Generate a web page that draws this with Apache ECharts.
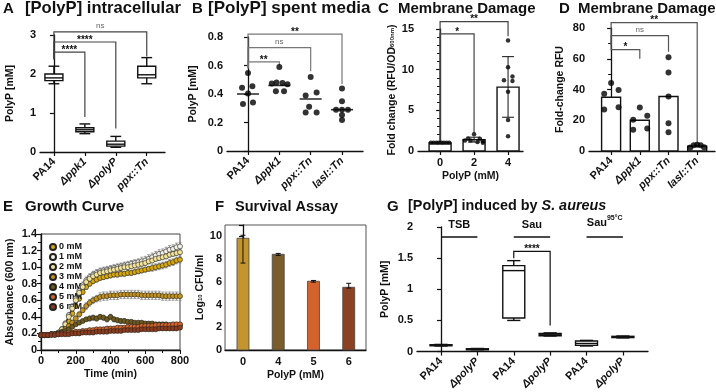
<!DOCTYPE html>
<html>
<head>
<meta charset="utf-8">
<script src="https://cdn.jsdelivr.net/npm/echarts@6/dist/echarts.min.js"></script>
<style>
  html, body { margin: 0; padding: 0; background: #fff; }
  #chart { width: 716px; height: 392px; }
</style>
</head>
<body>
<div id="chart"></div>
<script>
const FONT = '"Liberation Sans", Arial, Helvetica, sans-serif';

// ---------- A: [PolyP] intracellular (min, q1, median, q3, max)
const strainsA = ['PA14', 'Δppk1', 'ΔpolyP', 'ppx::Tn'];
const boxesA = [
  [1.75, 1.83, 1.90, 2.00, 2.20],
  [0.47, 0.52, 0.57, 0.62, 0.72],
  [0.12, 0.15, 0.20, 0.28, 0.40],
  [1.75, 1.90, 1.98, 2.20, 2.42]
];
// [from, to, top, left leg end, right leg end]
const bracketsA = [[0, 1, 2.56, 2.38, 0.90], [0, 2, 2.82, 2.38, 0.60], [0, 3, 3.08, 2.38, 2.45]];
const starsA = ['****', '****', 'ns'];

// ---------- B: [PolyP] spent media  ([offset within group, value])
const strainsB = ['PA14', 'Δppk1', 'ppx::Tn', 'lasI::Tn'];
const pointsB = [
  [[0, 0.548], [-0.19, 0.443], [0.14, 0.455], [0, 0.403], [-0.16, 0.329], [0.16, 0.34]],
  [[0, 0.59], [-0.24, 0.473], [-0.09, 0.48], [0.1, 0.478], [0.26, 0.469], [-0.11, 0.42], [0.15, 0.42]],
  [[0, 0.52], [-0.16, 0.39], [0.19, 0.41], [-0.05, 0.31], [-0.16, 0.27], [0.19, 0.27]],
  [[0, 0.438], [0, 0.35], [-0.19, 0.29], [0, 0.29], [0.19, 0.29], [0, 0.252], [0, 0.217]]
];
const mediansB = [0.40, 0.46, 0.365, 0.29];
const bracketsB = [[0, 1, 0.625, 0.58, 0.60], [0, 2, 0.725, 0.58, 0.56], [0, 3, 0.82, 0.58, 0.47]];
const starsB = ['**', 'ns', '**'];

// ---------- C: Membrane damage vs PolyP dose
const dosesC = ['0', '2', '4'];
const barsC = [1.0, 1.4, 7.85];
const errC = [[1.0, 1.0], [1.1, 1.7], [4.15, 11.6]];
const pointsC = [
  [[-0.27, 1], [-0.19, 1], [-0.11, 1], [-0.04, 1], [0.04, 1], [0.11, 1], [0.19, 1], [0.27, 1]],
  [[0, 2.05], [-0.18, 1.55], [0.17, 1.5], [-0.27, 1.3], [-0.1, 1.3], [0.26, 1.2], [0.1, 1.1], [0.26, 1.0]],
  [[0, 13.6], [0, 10.3], [-0.12, 8.7], [0.13, 9.15], [0.13, 8.6], [0, 7.3], [0, 3.8], [0, 1.8]]
];
const bracketsC = [[0, 1, 14.4, 1.1, 2.2], [0, 2, 15.9, 1.1, 14.1]];
const starsC = ['*', '**'];

// ---------- D: Membrane damage per strain
const strainsD = ['PA14', 'Δppk1', 'ppx::Tn', 'lasI::Tn'];
const barsD = [35, 20, 35.4, 3.2];
const pointsD = [
  [[0, 44.3], [-0.24, 37.2], [0.26, 39.6], [-0.24, 27], [0.26, 28.5]],
  [[0, 28.3], [-0.23, 20.4], [0.26, 23], [-0.23, 13.9], [0.26, 14.6]],
  [[0, 61], [0, 51], [0, 35.4], [0, 18], [0, 12.2]],
  [[-0.24, 2.2], [-0.12, 3.7], [0, 4.1], [0.12, 3.8], [0.24, 2.4]]
];
const bracketsD = [[0, 1, 66, 69, 60], [0, 2, 75, 69, 64.6], [0, 3, 83.5, 69, 4.8]];
const starsD = ['*', 'ns', '**'];

// ---------- E: Growth curves (absorbance 600 nm) with SD
const timeE = [0, 20, 40, 60, 80, 100, 120, 140, 160, 180, 200, 220, 240, 260, 280, 300, 320, 340, 360, 380, 400,
  420, 440, 460, 480, 500, 520, 540, 560, 580, 600, 620, 640, 660, 680, 700, 720, 740, 760, 780, 800];
const doseNamesE = ['0 mM', '1 mM', '2 mM', '3 mM', '4 mM', '5 mM', '6 mM'];
const doseColorsE = ['#d9a90c', '#f4f1e6', '#f3e49c', '#c3921f', '#6e5a1c', '#d4642a', '#8c3c1c'];
const od0mM = [.18, .18, .18, .19, .19, .20, .23, .28, .35, .44, .53, .62, .70, .76, .80, .83, .85, .87, .88, .89, .90,
  .91, .91, .92, .92, .93, .93, .94, .95, .96, .97, .98, .99, 1.00, 1.01, 1.02, 1.03, 1.05, 1.06, 1.08, 1.09];
const od1mM = [.18, .18, .18, .19, .19, .21, .25, .32, .42, .52, .62, .71, .78, .84, .88, .91, .93, .95, .96, .97, .98,
  .99, 1.00, 1.01, 1.02, 1.03, 1.04, 1.05, 1.06, 1.07, 1.08, 1.10, 1.12, 1.14, 1.16, 1.17, 1.19, 1.21, 1.22, 1.24, 1.25];
const od2mM = [.18, .18, .18, .19, .19, .21, .25, .31, .40, .50, .60, .69, .76, .82, .86, .89, .91, .93, .94, .95, .96,
  .97, .98, .99, 1.00, 1.00, 1.01, 1.02, 1.03, 1.04, 1.05, 1.07, 1.08, 1.10, 1.11, 1.12, 1.13, 1.15, 1.16, 1.17, 1.18];
const od3mM = [.18, .18, .18, .19, .19, .20, .22, .25, .29, .33, .38, .43, .48, .53, .57, .60, .62, .64, .65, .65, .66,
  .66, .66, .67, .67, .67, .67, .67, .67, .66, .66, .66, .66, .66, .66, .65, .65, .65, .65, .65, .65];
const od4mM = [.18, .18, .18, .19, .19, .20, .21, .23, .25, .28, .31, .33, .35, .37, .38, .39, .38, .40, .39, .37, .40,
  .37, .36, .35, .35, .34, .34, .33, .33, .33, .32, .32, .32, .31, .31, .31, .31, .30, .30, .30, .30];
const od5mM = [.18, .18, .18, .19, .19, .19, .20, .20, .21, .21, .22, .22, .23, .23, .24, .24, .25, .25, .25, .26, .26,
  .26, .27, .27, .27, .28, .28, .28, .28, .29, .29, .29, .29, .30, .30, .30, .30, .30, .31, .31, .31];
const od6mM = [.18, .18, .18, .18, .18, .19, .19, .19, .19, .20, .20, .20, .21, .21, .21, .21, .22, .22, .22, .22, .23,
  .23, .23, .23, .24, .24, .24, .24, .24, .25, .25, .25, .25, .25, .26, .26, .26, .26, .26, .26, .27];
const sd0mM = [.02, .02, .02, .02, .02, .02, .02, .03, .03, .03, .03, .03, .03, .03, .03, .03, .03, .03, .03, .03, .03,
  .03, .03, .03, .03, .03, .03, .03, .03, .03, .03, .03, .04, .04, .04, .04, .04, .04, .04, .04, .04];
const sd1mM = [.02, .02, .02, .02, .02, .02, .03, .03, .03, .04, .04, .04, .04, .04, .04, .04, .04, .04, .04, .04, .04,
  .04, .04, .04, .04, .04, .04, .04, .04, .05, .05, .05, .05, .05, .05, .05, .05, .05, .05, .05, .05];
const sd2mM = [.02, .02, .02, .02, .02, .02, .02, .03, .03, .03, .03, .03, .03, .03, .03, .03, .03, .03, .03, .03, .03,
  .03, .03, .03, .03, .03, .03, .03, .03, .03, .03, .03, .03, .03, .03, .03, .03, .03, .03, .03, .03];
const sd3mM = [.02, .02, .02, .02, .02, .02, .02, .02, .03, .03, .03, .03, .03, .04, .04, .04, .04, .05, .05, .05, .05,
  .05, .05, .05, .05, .05, .05, .05, .05, .05, .05, .05, .05, .05, .05, .05, .05, .05, .05, .05, .05];
const sd4mM = [.02, .02, .02, .02, .02, .02, .02, .02, .02, .02, .02, .02, .02, .02, .03, .03, .03, .03, .03, .03, .03,
  .03, .03, .03, .03, .02, .02, .02, .02, .02, .02, .02, .02, .02, .02, .02, .02, .02, .02, .02, .02];
const sd5mM = [.02, .02, .02, .02, .02, .02, .02, .02, .02, .02, .02, .02, .02, .02, .02, .02, .02, .02, .02, .02, .02,
  .02, .02, .02, .02, .02, .02, .02, .02, .02, .02, .02, .02, .02, .02, .02, .02, .02, .02, .02, .02];
const sd6mM = [.02, .02, .02, .02, .02, .02, .02, .02, .02, .02, .02, .02, .02, .02, .02, .02, .02, .02, .02, .02, .02,
  .02, .02, .02, .02, .02, .02, .02, .02, .02, .02, .02, .02, .02, .02, .02, .02, .02, .02, .02, .02];
const curvesE = [od0mM, od1mM, od2mM, od3mM, od4mM, od5mM, od6mM];
const sdE = [sd0mM, sd1mM, sd2mM, sd3mM, sd4mM, sd5mM, sd6mM];

// ---------- F: Survival assay
const dosesF = ['0', '4', '5', '6'];
const barsF = [9.83, 8.42, 6.05, 5.52];
const errF = [[7.65, 10.1], [8.32, 8.5], [5.97, 6.12], [5.45, 5.87]];
const colorsF = ['#c4952f', '#7b5c2b', '#d3622c', '#8a4223'];

// ---------- G: [PolyP] induced by S. aureus (min, q1, median, q3, max)
const strainsG = ['PA14', 'ΔpolyP', 'PA14', 'ΔpolyP', 'PA14', 'ΔpolyP'];
const boxesG = [
  [0.09, 0.095, 0.10, 0.11, 0.115],
  [0.03, 0.035, 0.04, 0.045, 0.05],
  [0.50, 0.54, 1.30, 1.38, 1.46],
  [0.25, 0.255, 0.27, 0.29, 0.30],
  [0.09, 0.10, 0.13, 0.17, 0.18],
  [0.22, 0.225, 0.235, 0.245, 0.25]
];
const conditionsG = ['{a|TSB}', '{a|Sau}', '{a|Sau}{s|95°C}'];
const conditionSpanG = [[0, 1, 1.84], [2, 3, 1.84], [4, 5, 1.84]];
const bracketsG = [[2, 3, 1.61, 1.50, 0.42]];
const starsG = ['****'];

// ================= helpers
const INK = '#111';
const tickFont = { fontFamily: FONT, fontSize: 11, fontWeight: 'bold', color: INK };
const nameFont = { fontFamily: FONT, fontSize: 10.5, fontWeight: 'bold', color: INK };

function fmtStrain(n) {
  return /^(PA14|\d+)$/.test(n) ? '{n|' + n + '}' : '{i|' + n + '}';
}

function catAxis(gi, min, max, names, rotate) {
  const idx = names.map((_, i) => i);
  return {
    type: 'value', gridIndex: gi, min: min, max: max,
    splitLine: { show: false },
    axisLine: { lineStyle: { color: INK, width: 1.3 } },
    axisTick: { customValues: idx, length: 4, lineStyle: { color: INK, width: 1.2 } },
    axisLabel: {
      customValues: idx, rotate: rotate, margin: rotate ? 8 : 6,
      formatter: v => fmtStrain(names[Math.round(v)]),
      rich: {
        n: Object.assign({}, tickFont),
        i: Object.assign({}, tickFont, { fontStyle: 'italic' })
      }
    }
  };
}

function valAxis(gi, min, max, interval, name, nameGap, extra) {
  return Object.assign({
    type: 'value', gridIndex: gi, min: min, max: max, interval: interval,
    name: name, nameLocation: 'middle', nameGap: nameGap, nameTextStyle: nameFont,
    splitLine: { show: false },
    axisLine: { show: true, lineStyle: { color: INK, width: 1.3 } },
    axisTick: { show: true, length: 4, lineStyle: { color: INK, width: 1.2 } },
    axisLabel: Object.assign({ margin: 4 }, tickFont)
  }, extra || {});
}

const oneDecimal = v => (v === 0 ? '0' : v.toFixed(1));

function boxSeries(gi, boxes, w) {
  return {
    type: 'custom', xAxisIndex: gi, yAxisIndex: gi, clip: false, silent: true, z: 3,
    data: boxes.map((b, i) => [i].concat(b)),
    renderItem: (params, api) => {
      const x = api.value(0);
      const lo = api.coord([x, api.value(1)]), q1 = api.coord([x, api.value(2)]);
      const md = api.coord([x, api.value(3)]), q3 = api.coord([x, api.value(4)]);
      const hi = api.coord([x, api.value(5)]);
      const cx = lo[0], h = w / 2, c = w * 0.3;
      const ls = { stroke: INK, lineWidth: 1.4 };
      return {
        type: 'group', children: [
          { type: 'line', shape: { x1: cx, y1: hi[1], x2: cx, y2: q3[1] }, style: ls },
          { type: 'line', shape: { x1: cx - c, y1: hi[1], x2: cx + c, y2: hi[1] }, style: ls },
          { type: 'line', shape: { x1: cx, y1: q1[1], x2: cx, y2: lo[1] }, style: ls },
          { type: 'line', shape: { x1: cx - c, y1: lo[1], x2: cx + c, y2: lo[1] }, style: ls },
          { type: 'rect', shape: { x: cx - h, y: q3[1], width: w, height: Math.max(q1[1] - q3[1], 1) },
            style: { fill: '#fff', stroke: INK, lineWidth: 1.4 } },
          { type: 'line', shape: { x1: cx - h, y1: md[1], x2: cx + h, y2: md[1] }, style: ls }
        ]
      };
    }
  };
}

function barSeries(gi, values, w, fills, stroke, lw) {
  return {
    type: 'custom', xAxisIndex: gi, yAxisIndex: gi, silent: true, z: 2,
    data: values.map((v, i) => [i, v]),
    renderItem: (params, api) => {
      const top = api.coord([api.value(0), api.value(1)]);
      const base = api.coord([api.value(0), 0]);
      return {
        type: 'rect', shape: { x: top[0] - w / 2, y: top[1], width: w, height: base[1] - top[1] },
        style: { fill: fills[params.dataIndex % fills.length], stroke: stroke, lineWidth: lw }
      };
    }
  };
}

function errSeries(gi, errs, cap, z) {
  return {
    type: 'custom', xAxisIndex: gi, yAxisIndex: gi, silent: true, clip: false, z: z || 4,
    data: errs.map((e, i) => [i, e[0], e[1]]),
    renderItem: (params, api) => {
      const lo = api.coord([api.value(0), api.value(1)]);
      const hi = api.coord([api.value(0), api.value(2)]);
      const ls = { stroke: INK, lineWidth: 1 };
      return {
        type: 'group', children: [
          { type: 'line', shape: { x1: lo[0], y1: lo[1], x2: hi[0], y2: hi[1] }, style: ls },
          { type: 'line', shape: { x1: hi[0] - cap, y1: hi[1], x2: hi[0] + cap, y2: hi[1] }, style: ls },
          { type: 'line', shape: { x1: lo[0] - cap, y1: lo[1], x2: lo[0] + cap, y2: lo[1] }, style: ls }
        ]
      };
    }
  };
}

function bracketSeries(gi, items, labels, color) {
  return {
    type: 'custom', xAxisIndex: gi, yAxisIndex: gi, clip: false, silent: true, z: 5,
    data: items,
    renderItem: (params, api) => {
      const a = api.coord([api.value(0), api.value(3)]);
      const b = api.coord([api.value(0), api.value(2)]);
      const c = api.coord([api.value(1), api.value(2)]);
      const d = api.coord([api.value(1), api.value(4)]);
      const lab = labels[params.dataIndex];
      const ns = lab === 'ns';
      return {
        type: 'group', children: [
          { type: 'polyline', shape: { points: [a, b, c, d] }, style: { stroke: color, lineWidth: 1.2, fill: null } },
          { type: 'text', style: {
            text: lab, x: (b[0] + c[0]) / 2, y: ns ? b[1] - 2 : b[1] + 3, align: 'center', verticalAlign: 'bottom',
            font: (ns ? 'normal 8px ' : 'bold 10px ') + FONT, fill: ns ? '#666' : INK } }
        ]
      };
    }
  };
}

function dotSeries(gi, groups, size) {
  const pts = [];
  groups.forEach((g, i) => g.forEach(p => pts.push([i + p[0], p[1]])));
  return {
    type: 'scatter', xAxisIndex: gi, yAxisIndex: gi, data: pts, symbolSize: size, silent: true, z: 6,
    itemStyle: { color: '#000' }
  };
}

// ================= chart
const chart = echarts.init(document.getElementById('chart'), null, { renderer: 'canvas' });

const titleStyle = { fontFamily: FONT, fontSize: 15, fontWeight: 'bold', color: INK };
const titles = [
  ['A', 3, 1, 15], ['[PolyP] intracellular', 25, 0, 16.6],
  ['B', 192, 1, 15], ['[PolyP] spent media', 208, 0, 17],
  ['C', 378, 1, 15], ['Membrane Damage', 398, 1, 15],
  ['D', 559, 1, 15], ['Membrane Damage', 578, 1, 15],
  ['E', 3, 199, 15], ['Growth Curve', 25, 199, 15],
  ['F', 215, 199, 15], ['Survival Assay', 235, 199, 14.5],
  ['G', 387, 199, 15], ['[PolyP] induced by {it|S. aureus}', 408, 199, 14.4]
].map(t => {
  const st = Object.assign({}, titleStyle, { fontSize: t[3] });
  return {
    text: t[0], left: t[1], top: t[2], padding: 0,
    textStyle: Object.assign({}, st, { rich: { it: Object.assign({}, st, { fontStyle: 'italic' }) } })
  };
});

const grids = [
  { left: 40, top: 35, width: 125, height: 117 },   // A
  { left: 227, top: 37, width: 136, height: 114 },  // B
  { left: 418, top: 29, width: 105, height: 122 },  // C
  { left: 589, top: 28, width: 126, height: 123 },  // D
  { left: 41, top: 234, width: 139, height: 116, show: true, borderColor: '#444', borderWidth: 1 }, // E
  { left: 225, top: 225, width: 141, height: 125, show: true, borderColor: '#555', borderWidth: 1 }, // F
  { left: 417, top: 227, width: 231, height: 128 }  // G
];

const xAxes = [
  catAxis(0, -0.45, 3.59, strainsA, 45),
  catAxis(1, -0.67, 3.67, strainsB, 45),
  Object.assign(catAxis(2, -0.65, 2.44, dosesC, 0), {
    name: 'PolyP (mM)', nameLocation: 'middle', nameGap: 20, nameTextStyle: nameFont }),
  catAxis(3, -0.77, 3.62, strainsD, 45),
  {
    type: 'value', gridIndex: 4, min: 0, max: 800, interval: 200,
    name: 'Time (min)', nameLocation: 'middle', nameGap: 19, nameTextStyle: nameFont,
    splitLine: { show: false },
    axisLine: { lineStyle: { color: INK, width: 1.3 } },
    axisTick: { length: 4, lineStyle: { color: INK } },
    minorTick: { show: true, splitNumber: 2, length: 3, lineStyle: { color: INK } },
    axisLabel: Object.assign({ margin: 5 }, tickFont)
  },
  Object.assign(catAxis(5, -0.51, 3.49, dosesF, 0), {
    name: 'PolyP (mM)', nameLocation: 'middle', nameGap: 20, nameTextStyle: nameFont,
    axisTick: { show: false } }),
  catAxis(6, -0.66, 5.69, strainsG, 45)
];

const yAxes = [
  valAxis(0, 0, 3, 1, 'PolyP [mM]', 24),
  valAxis(1, 0, 0.8, 0.2, 'PolyP [mM]', 28, { axisLabel: Object.assign({ margin: 4, formatter: oneDecimal }, tickFont) }),
  valAxis(2, 0, 15, 5, 'Fold change (RFU/OD{sub|600nm})', 20, {
    minorTick: { show: true, splitNumber: 5, length: 3, lineStyle: { color: INK } },
    nameTextStyle: Object.assign({}, nameFont, { rich: { sub: Object.assign({}, nameFont, { fontSize: 6 }) } })
  }),
  valAxis(3, 0, 80, 20, 'Fold-change RFU', 23, {
    minorTick: { show: true, splitNumber: 2, length: 3, lineStyle: { color: INK } }
  }),
  valAxis(4, 0, 1.4, 0.2, 'Absorbance (600 nm)', 25, {
    minorTick: { show: true, splitNumber: 2, length: 3, lineStyle: { color: INK } },
    axisLabel: Object.assign({ margin: 4, formatter: oneDecimal }, tickFont)
  }),
  valAxis(5, 0, 11, 2, 'Log{sub|10} CFU/ml', 16, {
    minorTick: { show: true, splitNumber: 2, length: 3, lineStyle: { color: INK } },
    axisLabel: Object.assign({ margin: 3, formatter: v => (v > 10 ? '' : String(v)) }, tickFont),
    nameTextStyle: Object.assign({}, nameFont, { rich: { sub: Object.assign({}, nameFont, { fontSize: 6 }) } })
  }),
  valAxis(6, 0, 2, 0.5, 'PolyP [mM]', 26)
];

const series = [];

// A
series.push(boxSeries(0, boxesA, 18));
series.push(bracketSeries(0, bracketsA, starsA, '#444'));

// B
series.push({
  type: 'scatter', xAxisIndex: 1, yAxisIndex: 1, silent: true, z: 5,
  symbol: 'rect', symbolSize: [22, 1.6], itemStyle: { color: '#000' },
  data: mediansB.map((m, i) => [i, m])
});
series.push(dotSeries(1, pointsB, 6));
series.push(bracketSeries(1, bracketsB, starsB, '#777'));

// C
series.push(barSeries(2, barsC, 22, ['#fff'], INK, 1.4));
series.push(dotSeries(2, pointsC, 4.5));
series.push(errSeries(2, errC, 6, 7));
series.push(bracketSeries(2, bracketsC, starsC, '#444'));

// D
series.push(barSeries(3, barsD, 19, ['#fff'], INK, 1.4));
series.push(dotSeries(3, pointsD, 6));
series.push(bracketSeries(3, bracketsD, starsD, '#555'));

// E: SD whiskers underneath, then curves
curvesE.forEach((vals, k) => {
  series.push({
    type: 'custom', xAxisIndex: 4, yAxisIndex: 4, silent: true, z: 2,
    data: timeE.map((t, i) => [t, vals[i] - sdE[k][i], vals[i] + sdE[k][i]]),
    renderItem: (params, api) => {
      const lo = api.coord([api.value(0), api.value(1)]);
      const hi = api.coord([api.value(0), api.value(2)]);
      const ls = { stroke: '#8a8a8a', lineWidth: 0.8 };
      return {
        type: 'group', children: [
          { type: 'line', shape: { x1: lo[0], y1: lo[1], x2: hi[0], y2: hi[1] }, style: ls },
          { type: 'line', shape: { x1: hi[0] - 1.5, y1: hi[1], x2: hi[0] + 1.5, y2: hi[1] }, style: ls },
          { type: 'line', shape: { x1: lo[0] - 1.5, y1: lo[1], x2: lo[0] + 1.5, y2: lo[1] }, style: ls }
        ]
      };
    }
  });
});
curvesE.forEach((vals, k) => {
  series.push({
    name: doseNamesE[k], type: 'line', xAxisIndex: 4, yAxisIndex: 4,
    data: timeE.map((t, i) => [t, vals[i]]),
    symbol: 'circle', symbolSize: 5, showSymbol: true, silent: true, z: 3 + k,
    lineStyle: { color: '#333', width: 0.8 },
    itemStyle: { color: doseColorsE[k], borderColor: '#222', borderWidth: 0.6 }
  });
});

// F
series.push(barSeries(5, barsF, 12, colorsF, '#444', 0.8));
series.push(errSeries(5, errF, 2.5, 4));

// G
series.push(boxSeries(6, boxesG, 22));
series.push(bracketSeries(6, bracketsG, starsG, INK));
series.push({
  type: 'custom', xAxisIndex: 6, yAxisIndex: 6, clip: false, silent: true, z: 5,
  data: conditionSpanG,
  renderItem: (params, api) => {
    const a = api.coord([api.value(0), api.value(2)]);
    const b = api.coord([api.value(1), api.value(2)]);
    return {
      type: 'group', children: [
        { type: 'line', shape: { x1: a[0], y1: a[1], x2: b[0], y2: b[1] }, style: { stroke: INK, lineWidth: 1.4 } },
        { type: 'text', style: {
          text: conditionsG[params.dataIndex], x: (a[0] + b[0]) / 2, y: a[1] - 6, align: 'center', verticalAlign: 'bottom',
          rich: {
            a: { fontFamily: FONT, fontSize: 11, fontWeight: 'bold', fill: INK },
            s: { fontFamily: FONT, fontSize: 7, fontWeight: 'bold', fill: INK, padding: [0, 0, 9, 0] }
          } } }
      ]
    };
  }
});

chart.setOption({
  animation: false,
  textStyle: { fontFamily: FONT },
  title: titles,
  legend: {
    data: doseNamesE, orient: 'vertical', left: 44, top: 237,
    icon: 'circle', itemWidth: 6, itemHeight: 6, itemGap: 0,
    textStyle: { fontFamily: FONT, fontSize: 9, fontWeight: 'bold', color: INK, lineHeight: 10, padding: [0, 0, 0, -2] },
    selectedMode: false
  },
  grid: grids,
  xAxis: xAxes,
  yAxis: yAxes,
  series: series
});
</script>
</body>
</html>
